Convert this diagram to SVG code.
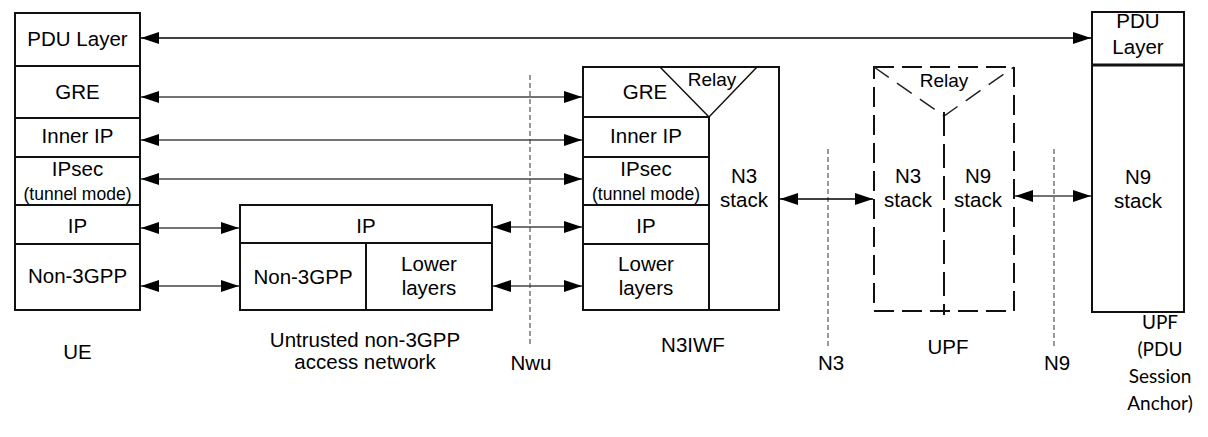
<svg xmlns="http://www.w3.org/2000/svg" width="1208" height="437" viewBox="0 0 1208 437">
<defs>
<marker id="ah" markerUnits="userSpaceOnUse" markerWidth="19" markerHeight="13" refX="18" refY="6" orient="auto-start-reverse" viewBox="0 0 19 13">
<path d="M0,0 L18,6 L0,12 z" fill="#000"/>
</marker>
<style>
.box{fill:#fff;stroke:#111;stroke-width:2}
.ln{stroke:#111;stroke-width:2;fill:none}
.dbox{fill:none;stroke:#111;stroke-width:2;stroke-dasharray:20 8}
.thin{stroke:#111;stroke-width:1.5;fill:none}
.dthin{stroke:#222;stroke-width:1.5;fill:none;stroke-dasharray:18 10}
.ref{stroke:#555;stroke-width:1.2;stroke-dasharray:5 3;fill:none}
.arr{stroke:#444;stroke-width:1.3;fill:none;marker-start:url(#ah);marker-end:url(#ah)}
text{font-family:"Liberation Sans",Arial,sans-serif;font-size:20.5px;fill:#000;text-anchor:middle}
.sm{font-size:17.5px}
.cal{font-family:Lato,"Open Sans",sans-serif;font-size:19px}
</style>
</defs>

<g id="ue">
<rect class="box" x="15" y="13" width="125" height="297"/>
<line class="ln" x1="15" y1="66" x2="140" y2="66"/>
<line class="ln" x1="15" y1="118" x2="140" y2="118"/>
<line class="ln" x1="15" y1="157" x2="140" y2="157"/>
<line class="ln" x1="15" y1="205" x2="140" y2="205"/>
<line class="ln" x1="15" y1="244" x2="140" y2="244"/>
<text x="77.5" y="46">PDU Layer</text>
<text x="77.5" y="99">GRE</text>
<text x="77.5" y="143">Inner IP</text>
<text x="77.5" y="176">IPsec</text>
<text class="sm" x="77.5" y="200">(tunnel mode)</text>
<text x="77.5" y="233">IP</text>
<text x="77.5" y="283">Non-3GPP</text>
<text x="77.5" y="359">UE</text>
</g>

<g id="access">
<rect class="box" x="240" y="205" width="252" height="105"/>
<line class="ln" x1="240" y1="243" x2="492" y2="243"/>
<line class="ln" x1="366" y1="243" x2="366" y2="310"/>
<text x="366" y="233">IP</text>
<text x="303" y="284">Non-3GPP</text>
<text x="429" y="271">Lower</text>
<text x="429" y="295">layers</text>
<text x="365" y="347">Untrusted non-3GPP</text>
<text x="365" y="369">access network</text>
</g>

<g id="n3iwf">
<rect class="box" x="583" y="67" width="196" height="243"/>
<line class="ln" x1="709" y1="117" x2="709" y2="310"/>
<line class="ln" x1="583" y1="117" x2="709" y2="117"/>
<line class="ln" x1="583" y1="157" x2="709" y2="157"/>
<line class="ln" x1="583" y1="205" x2="709" y2="205"/>
<line class="ln" x1="583" y1="244" x2="709" y2="244"/>
<path class="thin" d="M660,67 L709,117 L757,67"/>
<text x="645" y="99">GRE</text>
<text x="712" y="86" style="font-size:19px">Relay</text>
<text x="646" y="143">Inner IP</text>
<text x="646" y="176">IPsec</text>
<text class="sm" x="646" y="200">(tunnel mode)</text>
<text x="646" y="233">IP</text>
<text x="646" y="271">Lower</text>
<text x="646" y="295">layers</text>
<text x="744" y="183">N3</text>
<text x="744" y="207">stack</text>
<text x="693" y="352">N3IWF</text>
</g>

<g id="upf">
<rect class="dbox" x="874" y="67" width="140" height="244"/>
<path class="dthin" d="M874,67 L944,116 L1014,67"/>
<line class="dbox" x1="944" y1="112" x2="944" y2="315" style="stroke-dasharray:24 8"/>
<text x="944" y="87" style="font-size:19px">Relay</text>
<text x="908" y="183">N3</text>
<text x="908" y="207">stack</text>
<text x="978" y="183">N9</text>
<text x="978" y="207">stack</text>
<text x="948" y="354">UPF</text>
</g>

<g id="upf-psa">
<rect class="box" x="1092" y="12" width="92" height="300"/>
<line x1="1092" y1="65" x2="1184" y2="65" stroke="#111" stroke-width="3"/>
<text x="1138" y="28">PDU</text>
<text x="1138" y="54">Layer</text>
<text x="1138" y="184">N9</text>
<text x="1138" y="208">stack</text>
<text class="cal" x="1160" y="329">UPF</text>
<text class="cal" x="1160" y="356">(PDU</text>
<text class="cal" x="1160" y="383">Session</text>
<text class="cal" x="1160" y="410">Anchor)</text>
</g>

<g id="refpoints">
<line class="ref" x1="530" y1="75" x2="530" y2="347"/>
<line class="ref" x1="828" y1="149" x2="828" y2="347"/>
<line class="ref" x1="1054" y1="149" x2="1054" y2="347"/>
<text x="531" y="370">Nwu</text>
<text x="831" y="370">N3</text>
<text x="1057" y="370">N9</text>
</g>

<g id="connectors">
<line class="arr" x1="141" y1="38" x2="1091" y2="38" style="stroke:#000"/>
<line class="arr" x1="141" y1="97" x2="582" y2="97"/>
<line class="arr" x1="141" y1="140" x2="582" y2="140"/>
<line class="arr" x1="141" y1="179" x2="582" y2="179"/>
<line class="arr" x1="141" y1="228" x2="239" y2="228"/>
<line class="arr" x1="141" y1="286" x2="239" y2="286"/>
<line class="arr" x1="493" y1="227" x2="582" y2="227"/>
<line class="arr" x1="493" y1="286" x2="582" y2="286"/>
<line class="arr" x1="780" y1="199" x2="873" y2="199" style="stroke:#000"/>
<line class="arr" x1="1015" y1="196" x2="1091" y2="196"/>
</g>
</svg>
